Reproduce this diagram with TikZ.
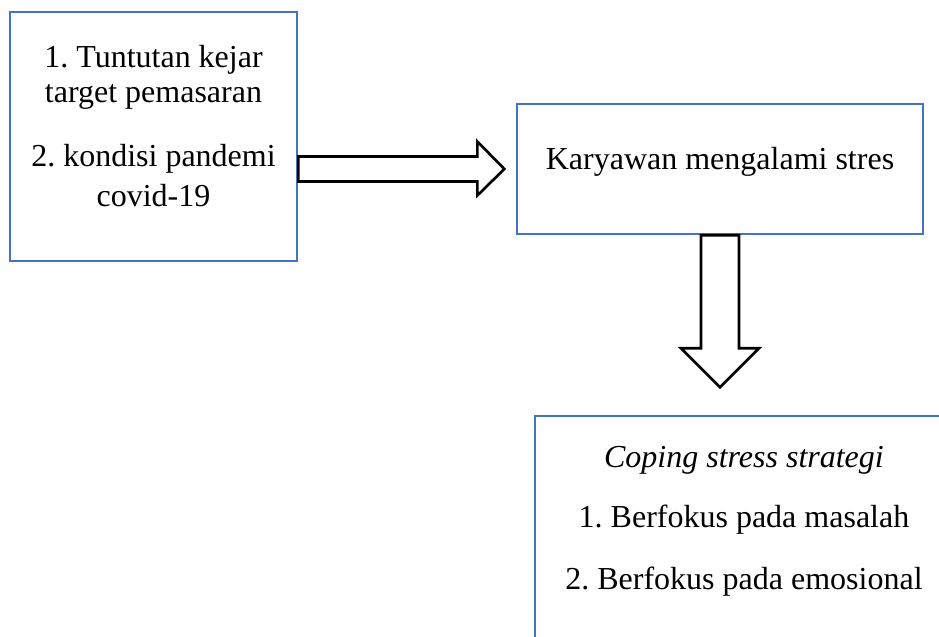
\documentclass[tikz,border=0pt]{standalone}
\usepackage{fontspec}
\setmainfont{Liberation Serif}
\frenchspacing

\definecolor{boxblue}{HTML}{4472C4}
\tikzset{
  bluebox/.style={draw=boxblue, line width=1pt, rectangle, inner sep=0pt},
  blockarrow/.style={draw=black, line width=1pt, fill=white, line join=miter},
  boxtext/.style={anchor=base, inner sep=0pt, font=\fontsize{12}{14}\selectfont}
}

\begin{document}
\begin{tikzpicture}[x=0.375pt, y=-0.375pt]

%% Frame
\useasboundingbox (0,0) rectangle (939,637);
\clip (0,0) rectangle (939,637);

%% Boxes
\node[bluebox, minimum width=287*0.375pt, minimum height=249*0.375pt] (causes) at (153.5,136.5) {};
\node[bluebox, minimum width=406*0.375pt, minimum height=130*0.375pt] (stress) at (720,169) {};
\node[bluebox, minimum width=420*0.375pt, minimum height=260*0.375pt] (coping) at (745,546) {};

%% Texts
\node[boxtext] (c1) at (153.5,68) {1. Tuntutan kejar};
\node[boxtext] (c2) at (153.5,103) {target pemasaran};
\node[boxtext] (c3) at (153.5,167) {2. kondisi pandemi};
\node[boxtext] (c4) at (153.5,207) {covid-19};
\node[boxtext] (s1) at (720,170) {Karyawan mengalami stres};
\node[boxtext] (k1) at (744,468) {\itshape Coping stress strategi};
\node[boxtext] (k2) at (744,528) {1. Berfokus pada masalah};
\node[boxtext] (k3) at (744,590) {2. Berfokus pada emosional};

%% Block arrows
\draw[blockarrow] (causes.east |- stress.west) ++(0,-12.5) -- ++(179,0) -- ++(0,-15)
  -- ++(27,27.5) -- ++(-27,26.5) -- ++(0,-14) -- ++(-179,0) -- cycle;
\draw[blockarrow] (stress.south) ++(-19,0) -- ++(0,113) -- ++(-20,0) -- ++(39,39)
  -- ++(39,-39) -- ++(-20,0) -- ++(0,-113) -- cycle;

\end{tikzpicture}
\end{document}
